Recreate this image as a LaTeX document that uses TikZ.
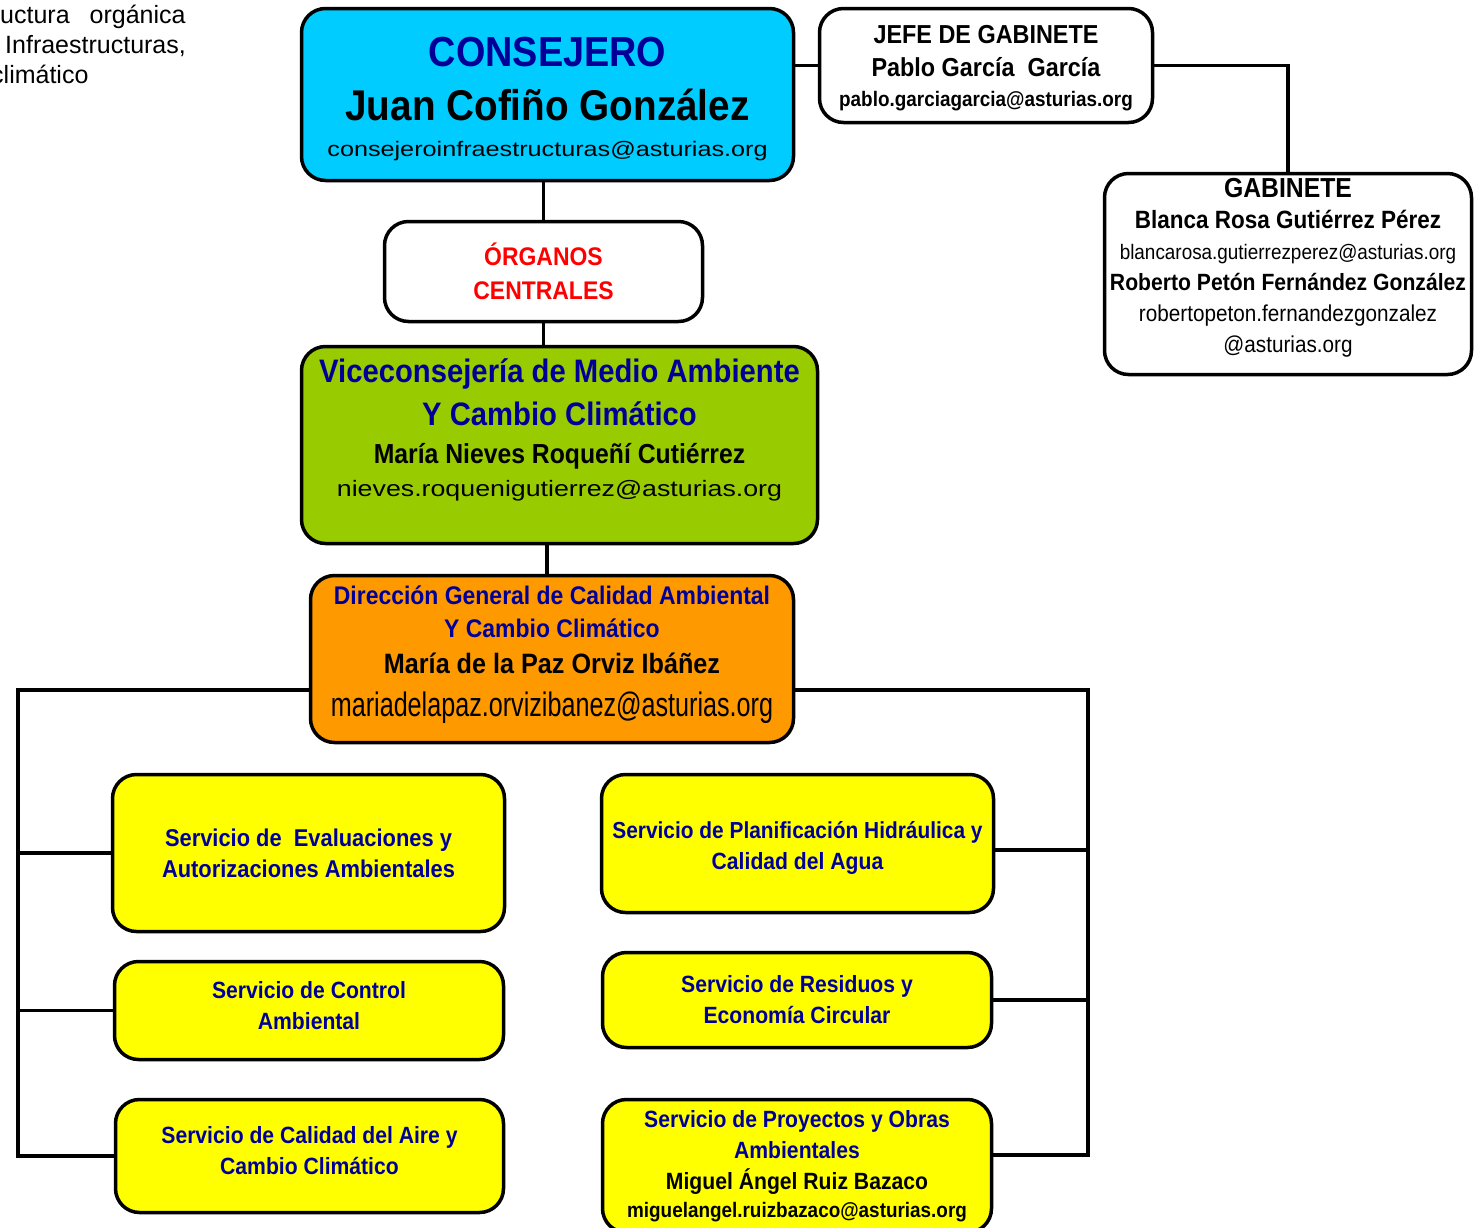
\documentclass[tikz,border=0pt]{standalone}
\usepackage{fontspec}
\setmainfont{Liberation Sans}
\newfontfamily\narrowfont[FakeStretch=0.9]{Liberation Sans}
\newfontfamily\condfont[FakeStretch=0.74]{Liberation Sans}
\newfontfamily\widefont[FakeStretch=1.2]{Liberation Sans}
\newcommand\fnb[1]{\narrowfont\bfseries\fontsize{#1}{#1}\selectfont}
\newcommand\fnr[1]{\narrowfont\fontsize{#1}{#1}\selectfont}
\newcommand\fcr[1]{\condfont\fontsize{#1}{#1}\selectfont}
\newcommand\fwr[1]{\widefont\fontsize{#1}{#1}\selectfont}
\definecolor{celeste}{HTML}{00CCFF}
\definecolor{verde}{HTML}{99CC00}
\definecolor{naranja}{HTML}{FF9900}
\definecolor{amarillo}{HTML}{FFFF00}
\definecolor{azul}{HTML}{000099}

\begin{document}
\begin{tikzpicture}[x=1pt,y=-1pt]
	\tikzset{box/.style = {draw, line width=3.5pt, rounded corners=24pt, inner sep=0pt, align=center}}
	\tikzset{conn/.style = {line width=3.5pt}}
	\tikzset{serv/.style = {box, fill=amarillo, text=azul, font=\narrowfont\bfseries\fontsize{23.5}{31}\selectfont}}

	\useasboundingbox (0,0) rectangle (1476,1227);

	\node[font=\fontsize{25}{30}\selectfont, align=left, anchor=north west, inner sep=0pt] (nota) at (-9,4.7)
		{\hspace{9pt}uctura\hspace{20pt}orgánica\\ \hspace{14pt}Infraestructuras,\\ climático};

	\node[box, fill=celeste, minimum width=492pt, minimum height=172pt, font=\fontsize{10}{54}\selectfont] (cons) at (547.5,94.5)
		{{\fnb{42}\color{azul}\rule{0pt}{39pt}CONSEJERO}\\
		{\fnb{43}Juan Cofiño González}\\[-18pt]
		{\fwr{21}consejeroinfraestructuras@asturias.org}};
	\node[box, fill=white, minimum width=333pt, minimum height=114pt, font=\fontsize{10}{33}\selectfont] (jefe) at (986,65.5)
		{{\fnb{26}\rule{0pt}{24.4pt}JEFE DE GABINETE}\\
		{\fnb{26}Pablo García\ \ García}\\[-3pt]
		{\fnb{21}pablo.garciagarcia@asturias.org}};
	\node[box, fill=white, minimum width=367pt, minimum height=201pt, font=\fontsize{10}{31}\selectfont] (gab) at (1288,274)
		{{\fnb{27.5}GABINETE}\\
		{\fnb{25}Blanca Rosa Gutiérrez Pérez}\\
		{\fnr{21}blancarosa.gutierrezperez@asturias.org}\\
		{\fnb{23.5}Roberto Petón Fernández González}\\
		{\fnr{23}robertopeton.fernandezgonzalez}\\
		{\fnr{23}@asturias.org}\\[-14pt]};
	\node[box, fill=white, text=red, minimum width=318pt, minimum height=100pt, font=\fontsize{10}{34}\selectfont] (org) at (543.5,271.5)
		{{\fnb{25.5}ÓRGANOS}\\ {\fnb{25.5}CENTRALES}};
	\node[box, fill=verde, minimum width=516pt, minimum height=197pt, font=\fontsize{10}{40}\selectfont] (vice) at (559.5,445)
		{{\fnb{32.5}\color{azul}Viceconsejería de Medio Ambiente}\\[3pt]
		{\fnb{32.5}\color{azul}Y Cambio Climático}\\[-2pt]
		{\fnb{27.5}María Nieves Roqueñí Cutiérrez}\\[-7pt]
		{\fwr{22.3}nieves.roquenigutierrez@asturias.org}\\[-6pt]};
	\node[box, fill=naranja, minimum width=483pt, minimum height=167pt, font=\fontsize{10}{36}\selectfont] (dg) at (552,659)
		{{\fnb{25.5}\color{azul}Dirección General de Calidad Ambiental}\\[-3pt]
		{\fnb{25.5}\color{azul}Y Cambio Climático}\\
		{\fnb{28}María de la Paz Orviz Ibáñez}\\[7pt]
		{\fcr{34}mariadelapaz.orvizibanez@asturias.org}\\[-21pt]};

	% servicios
	\node[serv, minimum width=392pt, minimum height=157pt] (evalu) at (308.5,853)
		{{\fnb{24.3}Servicio de\ \ Evaluaciones y}\\ {\fnb{24.3}Autorizaciones Ambientales}};
	\node[serv, minimum width=389pt, minimum height=98pt] (contr) at (309,1010.5)
		{Servicio de Control\\ Ambiental\\[-20pt]};
	\node[serv, minimum width=388pt, minimum height=113pt] (aire) at (309.5,1156)
		{Servicio de Calidad del Aire y\\ Cambio Climático\\[-20pt]};
	\node[serv, minimum width=392pt, minimum height=138pt] (hidra) at (797.5,843.5)
		{{\fnb{23.2}\rule{0pt}{25pt}Servicio de Planificación Hidráulica y}\\ Calidad del Agua};
	\node[serv, minimum width=389pt, minimum height=95pt] (resid) at (797,1000)
		{Servicio de Residuos y\\ Economía Circular};
	\node[serv, minimum width=389pt, minimum height=133pt] (proy) at (797,1166)
		{Servicio de Proyectos y Obras\\ Ambientales\\
		{\color{black}Miguel Ángel Ruiz Bazaco}\\[-3pt]
		{\fnb{21}\color{black}miguelangel.ruizbazaco@asturias.org}};

	\coordinate (lft) at (18,690);
	\coordinate (rgt) at (1088,690);
	\coordinate (rgtb) at (1088,1155);

	\draw[conn] (cons.east |- jefe.west) -- (jefe.west);
	\draw[conn] (jefe.east) -| (gab.north);
	\draw[conn] (cons.south -| org.north) -- (org.north);
	\draw[conn] (org.south) -- (org.south |- vice.north);
	\draw[conn] ([xshift=-5pt]dg.north) -- ([xshift=-5pt]dg.north |- vice.south);
	\draw[conn] (dg.west |- lft) -- (lft) |- (aire.west);
	\draw[conn] (evalu.west) -- (evalu.west -| lft);
	\draw[conn] (contr.west) -- (contr.west -| lft);
	\draw[conn] (dg.east |- rgt) -- (rgt) -- (rgtb) -- (rgtb -| proy.east);
	\draw[conn] ([yshift=-6.5pt]hidra.east) -- ([yshift=-6.5pt]hidra.east -| rgt);
	\draw[conn] (resid.east) -- (resid.east -| rgt);

\end{tikzpicture}
\end{document}
